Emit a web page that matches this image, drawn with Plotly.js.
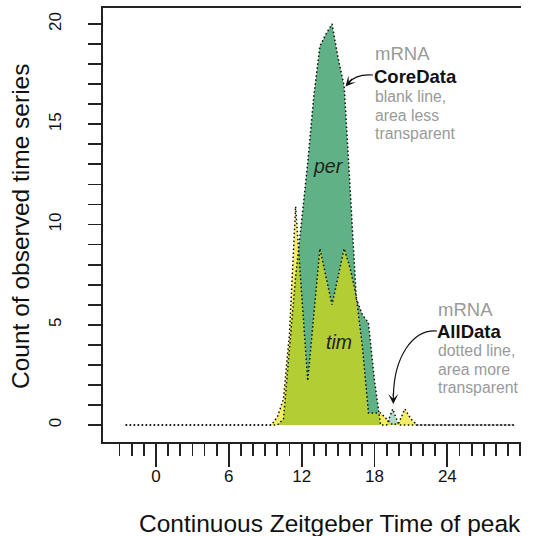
<!DOCTYPE html>
<html>
<head>
<meta charset="utf-8">
<script src="https://cdn.plot.ly/plotly-3.0.1.min.js"></script>
<style>html,body{margin:0;padding:0;background:#fff;}#chart{width:533px;height:536px;}</style>
</head>
<body>
<div id="chart"></div>
<script>
// ---- data ----
const zt = [-2.5, 9, 9.5, 10, 10.5, 11, 11.5, 12, 12.5, 13, 13.5, 14, 14.5, 15, 15.5, 16, 16.5, 17, 17.5, 18, 18.5, 19, 19.5, 20, 20.5, 21, 21.5, 22, 29.5];
const perAllData  = [0, 0, 0, 0, 0.3, 3.8, 7.4, 10.2, 13.1, 16.4, 18.9, 19.5, 20.0, 18.3, 16.9, 11.7, 6.3, 5.5, 5.1, 2.2, 0, 0, 0.8, 0, 0, 0, 0, 0, 0];
const perCoreData = [0, 0, 0, 0, 0.3, 3.8, 7.4, 10.2, 13.1, 16.4, 18.9, 19.5, 20.0, 18.3, 16.9, 11.7, 6.3, 5.5, 5.1, 2.2, 0, 0, 0, 0, 0, 0, 0, 0, 0];
const timAllData  = [0, 0, 0, 0.4, 1.3, 4.6, 10.9, 6.5, 2.2, 5.5, 8.8, 7.4, 6.0, 7.4, 8.8, 7.8, 6.4, 3.9, 0.6, 0.6, 0.6, 0.3, 0, 0.1, 0.8, 0.3, 0, 0, 0];
const timCoreData = [0, 0, 0, 0.4, 1.3, 4.6, 10.9, 6.5, 2.2, 5.5, 8.8, 7.4, 6.0, 7.4, 8.8, 7.8, 6.4, 3.9, 0.6, 0.6, 0.6, 0.3, 0, 0.1, 0.8, 0.3, 0, 0, 0];
const xMajorTicks = [0, 6, 12, 18, 24];
const xMinorTicks = [-3,-2,-1,0,1,2,3,4,5,6,7,8,9,10,11,12,13,14,15,16,17,18,19,20,21,22,23,24,25,26,27,28,29,30];
const yMajorTicks = [0, 5, 10, 15, 20];
const yMinorTicks = [0,1,2,3,4,5,6,7,8,9,10,11,12,13,14,15,16,17,18,19,20];

// ---- geometry helpers (pixel -> axis units), for annotation placement only ----
const X0 = 156, XS = 12.14, Y0 = 425, YS = 20.05;
const px2x = p => (p - X0) / XS;
const px2y = p => (Y0 - p) / YS;
const L = 103, R = 521, T = 8, B = 442;
const pxX = p => (p - L) / (R - L);
const pxY = p => (B - p) / (B - T);

const FONT = '"Liberation Sans", Arial, Helvetica, sans-serif';
const PER = '0,131,60';
const TIM = '235,225,0';
const dotted = {color: '#111', width: 1.5, dash: '1.5px,2.5px'};

const traces = [
  {x: zt, y: perCoreData, mode: 'none', fill: 'tozeroy', fillcolor: `rgba(${PER},0.45)`, hoverinfo: 'skip'},
  {x: zt, y: perAllData,  mode: 'none', fill: 'tozeroy', fillcolor: `rgba(${PER},0.31)`, hoverinfo: 'skip'},
  {x: zt, y: timCoreData, mode: 'none', fill: 'tozeroy', fillcolor: `rgba(${TIM},0.43)`, hoverinfo: 'skip'},
  {x: zt, y: timAllData,  mode: 'none', fill: 'tozeroy', fillcolor: `rgba(${TIM},0.30)`, hoverinfo: 'skip'},
  {x: zt, y: perAllData, mode: 'lines', line: dotted, hoverinfo: 'skip'},
  {x: zt, y: timAllData, mode: 'lines', line: dotted, hoverinfo: 'skip'}
];

function txt(text, px, py, size, color, extra) {
  return Object.assign({
    text: text, xref: 'paper', yref: 'paper', x: pxX(px), y: pxY(py),
    xanchor: 'left', yanchor: 'middle', showarrow: false,
    font: {family: FONT, size: size, color: color}
  }, extra || {});
}
const GRAY = '#9a9a9a';
const annotations = [
  txt('mRNA', 373, 53.5, 18.5, GRAY),
  txt('<b>CoreData</b>', 372, 76.5, 18.5, '#111'),
  txt('blank line,', 373, 97, 15.8, GRAY),
  txt('area less', 373, 115, 15.8, GRAY),
  txt('transparent', 373, 133, 15.8, GRAY),
  txt('mRNA', 436, 309.5, 18.5, GRAY),
  txt('<b>AllData</b>', 435, 331.5, 18.5, '#111'),
  txt('dotted line,', 436, 350.5, 15.8, GRAY),
  txt('area more', 436, 369, 15.8, GRAY),
  txt('transparent', 436, 387.5, 15.8, GRAY),
  txt('<i>per</i>', 328, 166, 19.5, '#222', {xanchor: 'center'}),
  txt('<i>tim</i>', 339, 342, 19.5, '#222', {xanchor: 'center'}),
  txt('Continuous Zeitgeber Time of peak', 330, 523, 24.5, '#111', {xanchor: 'center'}),
  txt('Count of observed time series', 20, 227, 24.5, '#111', {xanchor: 'center', textangle: -90}),
  // arrowheads
  {x: px2x(345.5), y: px2y(86.5), xref: 'x', yref: 'y', text: '', showarrow: true,
   ax: 8, ay: -9, arrowhead: 3, arrowsize: 1.4, arrowwidth: 1.2, arrowcolor: '#111'},
  {x: px2x(393.3), y: px2y(404), xref: 'x', yref: 'y', text: '', showarrow: true,
   ax: 0, ay: -12, arrowhead: 3, arrowsize: 1.4, arrowwidth: 1.2, arrowcolor: '#111'}
];

function P(px, py) { return px2x(px).toFixed(3) + ',' + px2y(py).toFixed(3); }
const shapes = [
  {type: 'path', xref: 'x', yref: 'y', line: {color: '#111', width: 1.2},
   path: `M ${P(373,75)} Q ${P(356,73.5)} ${P(347,84)}`},
  {type: 'path', xref: 'x', yref: 'y', line: {color: '#111', width: 1.2},
   path: `M ${P(437,331)} C ${P(412,329)} ${P(394,358)} ${P(393.4,396)}`}
];

const axisCommon = {
  showline: true, linewidth: 2, linecolor: '#222', showgrid: false, zeroline: false,
  ticks: 'outside', tickwidth: 1.8, tickcolor: '#222', tickmode: 'array',
  tickfont: {family: FONT, size: 17, color: '#111'}
};

const layout = {
  width: 533, height: 536, autosize: false,
  margin: {l: L, r: 533 - R, t: T, b: 536 - B, pad: 0},
  paper_bgcolor: '#fff', plot_bgcolor: '#fff', showlegend: false,
  xaxis: Object.assign({}, axisCommon, {
    range: [px2x(L), px2x(R)], mirror: true, ticklabelstandoff: -5,
    tickvals: xMajorTicks, ticktext: xMajorTicks.map(String), ticklen: 23,
    minor: {tickmode: 'array', tickvals: xMinorTicks, ticks: 'outside', ticklen: 12, tickwidth: 1.8, tickcolor: '#222'}
  }),
  yaxis: Object.assign({}, axisCommon, {
    range: [px2y(B), px2y(T)], mirror: false, tickangle: -90, ticklabelstandoff: 20,
    tickvals: yMajorTicks, ticktext: yMajorTicks.map(String), ticklen: 13,
    minor: {tickmode: 'array', tickvals: yMinorTicks, ticks: 'outside', ticklen: 13, tickwidth: 1.8, tickcolor: '#222'}
  }),
  annotations: annotations,
  shapes: shapes
};

Plotly.newPlot('chart', traces, layout, {staticPlot: true, displayModeBar: false});
</script>
</body>
</html>
